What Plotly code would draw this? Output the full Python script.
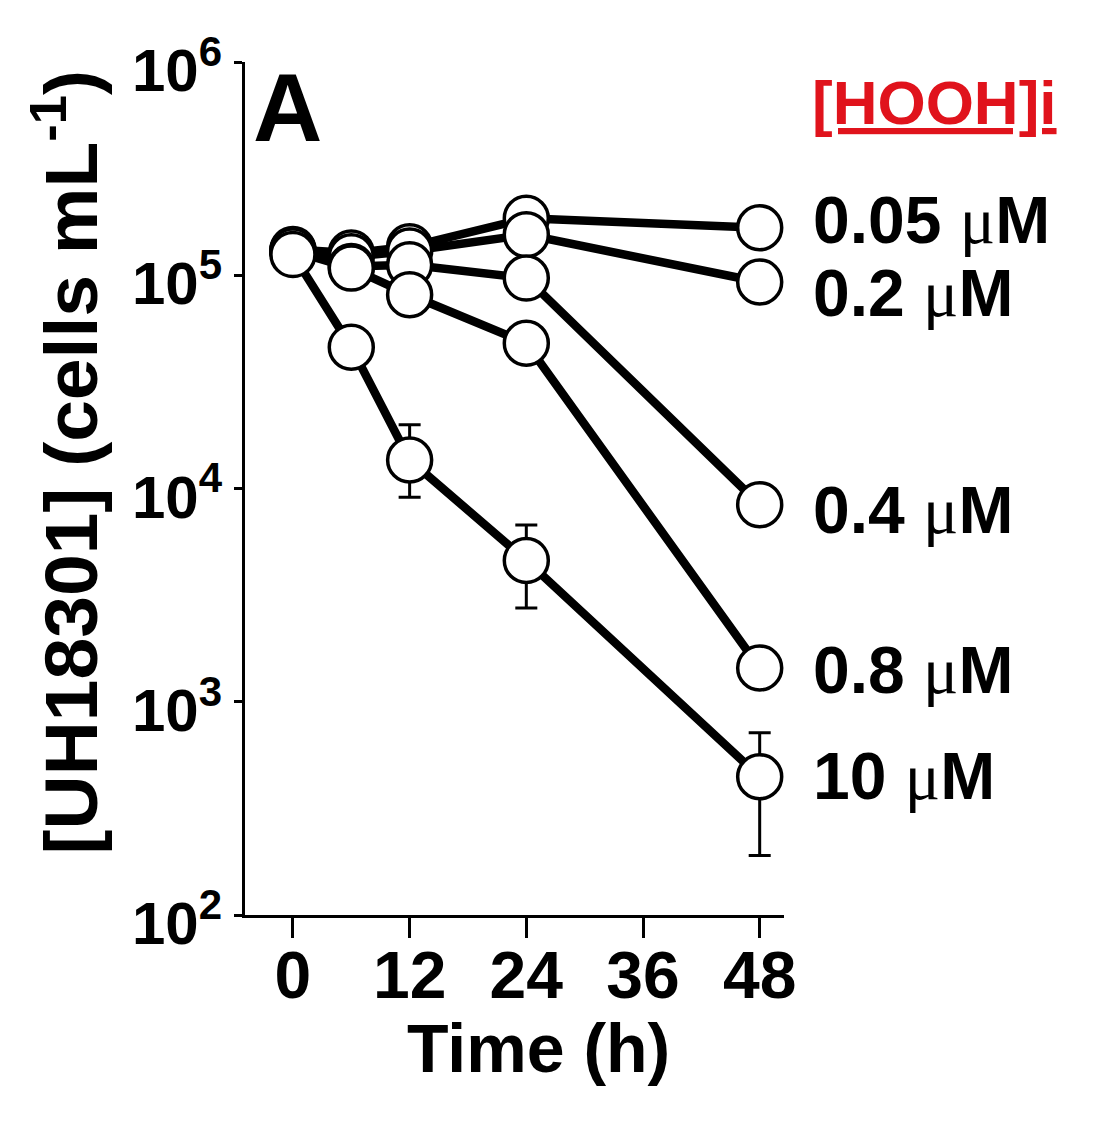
import math
import plotly.graph_objects as go

# ---- data ----
time_h = [0, 6, 12, 24, 48]
conc_labels = ["0.05 μM", "0.2 μM", "0.4 μM", "0.8 μM", "10 μM"]
cells_005 = [1.32e5, 1.27e5, 1.36e5, 1.85e5, 1.67e5]
cells_02 = [1.30e5, 1.22e5, 1.30e5, 1.55e5, 9.3e4]
cells_04 = [1.30e5, 1.10e5, 1.12e5, 9.7e4, 8.4e3]
cells_08 = [1.30e5, 1.08e5, 8.1e4, 4.8e4, 1.44e3]
cells_10 = [1.25e5, 4.6e4, 1.36e4, 4.6e3, 4.45e2]
err_up_10 = [0, 0, 6.3e3, 2.15e3, 2.7e2]
err_down_10 = [0, 0, 4.5e3, 1.85e3, 2.55e2]
x_ticks = [0, 12, 24, 36, 48]
y_ticks = [1e2, 1e3, 1e4, 1e5, 1e6]
y_ticktext = ["10<sup>2</sup>", "10<sup>3</sup>", "10<sup>4</sup>", "10<sup>5</sup>", "10<sup>6</sup>"]
label_shift = [8, -11, -5, -2, 1]

series = [cells_005, cells_02, cells_04, cells_08, cells_10]

FONT = "Liberation Sans, Arial, sans-serif"

fig = go.Figure()

# lines first
for vals in series:
    fig.add_trace(go.Scatter(x=time_h, y=vals, mode="lines",
                             line=dict(color="black", width=8.5),
                             showlegend=False, hoverinfo="skip"))

# markers on top
for i, vals in enumerate(series):
    kw = {}
    if i == 4:
        kw["error_y"] = dict(type="data", symmetric=False, array=err_up_10,
                             arrayminus=err_down_10, color="black",
                             thickness=3, width=11)
    fig.add_trace(go.Scatter(x=time_h, y=vals, mode="markers",
                             marker=dict(size=44, color="white",
                                         line=dict(color="black", width=3.5)),
                             showlegend=False, **kw))

# right-hand labels
for vals, lab, sh in zip(series, conc_labels, label_shift):
    num, unit = lab.split(" ")
    txt = ('<b>' + num + ' </b><span style="font-family:Liberation Serif;font-weight:normal">μ</span><b>M</b>')
    fig.add_annotation(x=48, y=math.log10(vals[-1]), xref="x", yref="y", text=txt,
                       showarrow=False, xanchor="left", yanchor="middle",
                       xshift=51, yshift=sh,
                       font=dict(family=FONT, size=66, color="black"))

fig.add_annotation(x=1.0, y=1.0, xref="paper", yref="paper",
                   text="<b><u>[HOOH]i</u></b>", showarrow=False,
                   xanchor="left", yanchor="middle", xshift=26, yshift=-40,
                   font=dict(family=FONT, size=62, color="#e0131c"))

fig.add_annotation(x=0, y=1.0, xref="paper", yref="paper",
                   text="<b>A</b>", showarrow=False,
                   xanchor="left", yanchor="top", xshift=6, yshift=10,
                   font=dict(family=FONT, size=96, color="black"))

# axis titles as annotations for precise placement
fig.add_annotation(x=0, y=0.5, xref="paper", yref="paper",
                   text="<b>[UH18301] (cells mL<sup>-1</sup>)</b>", showarrow=False,
                   textangle=-90, xanchor="center", yanchor="middle",
                   xshift=-180, yshift=26,
                   font=dict(family=FONT, size=75, color="black"))
fig.add_annotation(x=(538 - 245) / 539, y=0, xref="paper", yref="paper",
                   text="<b>Time (h)</b>", showarrow=False,
                   xanchor="center", yanchor="middle", yshift=-133,
                   font=dict(family=FONT, size=68, color="black"))

fig.update_layout(
    width=1101, height=1125,
    margin=dict(l=237, r=325, t=54, b=218, autoexpand=False),
    paper_bgcolor="white", plot_bgcolor="white",
    font=dict(family=FONT, size=58, color="black", weight="bold"),
    showlegend=False,
)
fig.update_xaxes(range=[-4.93, 50.5], tickvals=x_ticks,
                 ticktext=[str(v) for v in x_ticks],
                 showline=True, linecolor="black", linewidth=3,
                 ticks="outside", ticklen=20, tickwidth=3, tickcolor="black",
                 showgrid=False, zeroline=False, automargin=False,
                 ticklabelstandoff=-19,
                 tickfont=dict(size=66, family=FONT, weight="bold"))
fig.update_yaxes(type="log", range=[2, 6], tickvals=y_ticks, ticktext=y_ticktext,
                 showline=True, linecolor="black", linewidth=3,
                 ticks="outside", ticklen=8, tickwidth=3, tickcolor="black",
                 showgrid=False, zeroline=False, automargin=False,
                 ticklabelshift=8,
                 tickfont=dict(size=60, family=FONT, weight="bold"))

fig.write_html("out.html")
